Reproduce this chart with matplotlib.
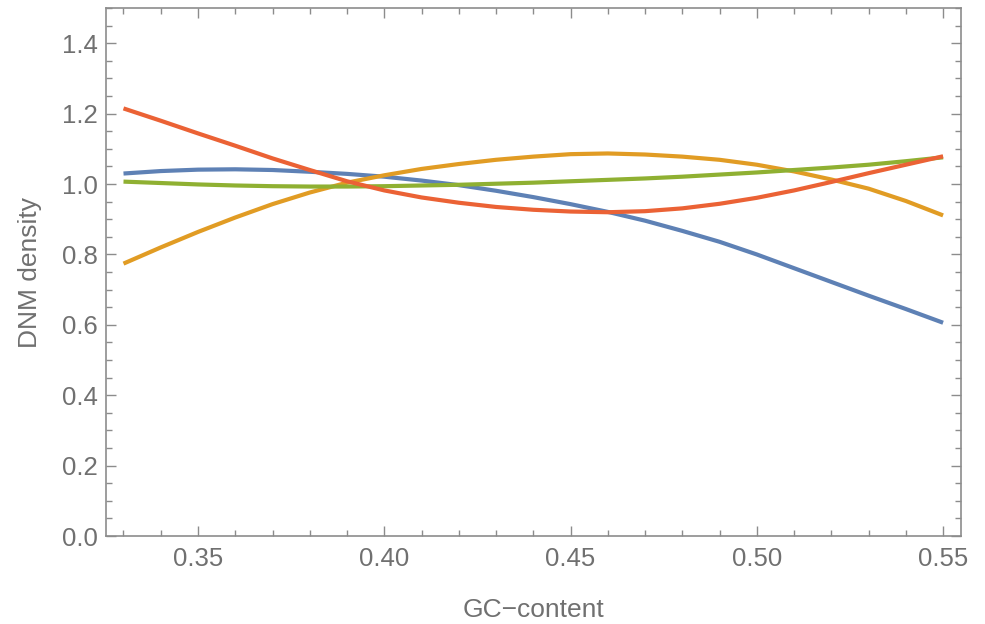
import numpy as np
import matplotlib
matplotlib.use("Agg")
import matplotlib.pyplot as plt
from matplotlib.ticker import MultipleLocator, FormatStrFormatter

plt.rcParams['font.family'] = ['Liberation Sans', 'DejaVu Sans']

# GC-content grid
gc = [0.33, 0.34, 0.35, 0.36, 0.37, 0.38, 0.39, 0.40, 0.41, 0.42, 0.43, 0.44,
      0.45, 0.46, 0.47, 0.48, 0.49, 0.50, 0.51, 0.52, 0.53, 0.54, 0.55]

blue = [1.030, 1.037, 1.041, 1.042, 1.040, 1.035, 1.029, 1.021, 1.010, 0.997,
        0.981, 0.963, 0.943, 0.921, 0.896, 0.867, 0.836, 0.800, 0.761, 0.722,
        0.683, 0.645, 0.606]
orange = [0.774, 0.820, 0.864, 0.905, 0.943, 0.976, 1.004, 1.025, 1.043, 1.057,
          1.069, 1.078, 1.085, 1.087, 1.084, 1.078, 1.069, 1.055, 1.036, 1.013,
          0.987, 0.952, 0.911]
green = [1.007, 1.003, 0.999, 0.996, 0.994, 0.993, 0.993, 0.994, 0.996, 0.998,
         1.001, 1.004, 1.008, 1.012, 1.016, 1.021, 1.027, 1.033, 1.040, 1.047,
         1.055, 1.065, 1.076]
red = [1.215, 1.180, 1.144, 1.109, 1.073, 1.040, 1.008, 0.982, 0.962, 0.947,
       0.935, 0.927, 0.922, 0.920, 0.923, 0.931, 0.944, 0.961, 0.982, 1.006,
       1.031, 1.055, 1.079]

series = [blue, orange, green, red]
colors = ['#5E81B5', '#E19C24', '#8FB032', '#EB6235']

fig = plt.figure(figsize=(9.85, 6.24), dpi=100)
ax = fig.add_axes([0.1076, 0.141, 0.868, 0.846])

for ys, c in zip(series, colors):
    ax.plot(gc, ys, color=c, lw=3.0, solid_capstyle='butt')

ax.set_xlim(0.3253, 0.5548)
ax.set_ylim(0, 1.5)

ax.xaxis.set_major_locator(MultipleLocator(0.05))
ax.xaxis.set_minor_locator(MultipleLocator(0.01))
ax.yaxis.set_major_locator(MultipleLocator(0.2))
ax.yaxis.set_minor_locator(MultipleLocator(0.05))
ax.xaxis.set_major_formatter(FormatStrFormatter('%.2f'))
ax.yaxis.set_major_formatter(FormatStrFormatter('%.1f'))

gray = '#8c8c8c'
txt = '#707070'
for s in ax.spines.values():
    s.set_color(gray)
    s.set_linewidth(1.2)

ax.tick_params(which='both', direction='in', top=True, right=True,
               color=gray, width=1.0, labelcolor=txt, labelsize=18.5)
ax.tick_params(which='major', length=7)
ax.tick_params(which='minor', length=4)
ax.tick_params(axis='x', which='major', pad=8)
ax.tick_params(axis='y', which='major', pad=6)

ax.set_xlabel('GC\u2212content', fontsize=19, color=txt, labelpad=19)
ax.set_ylabel('DNM density', fontsize=19, color=txt, labelpad=14)

plt.savefig('out.png', dpi=100)
